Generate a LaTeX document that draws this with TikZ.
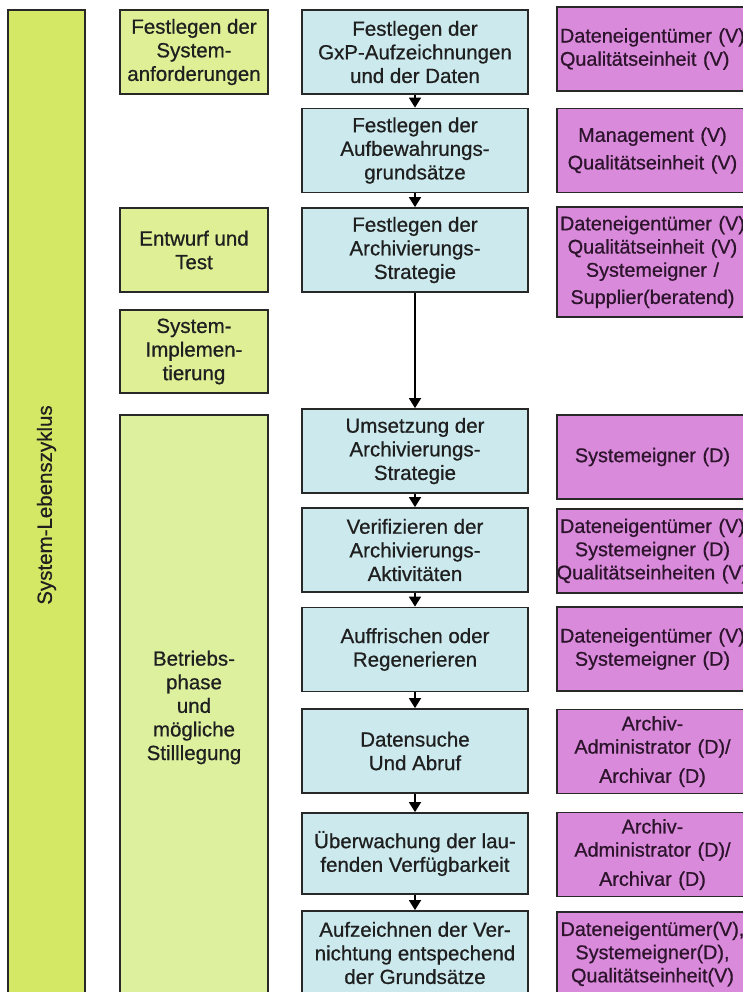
\documentclass[tikz,border=0pt]{standalone}
\usepackage{fontspec}
\setmainfont{Liberation Sans}
\newfontfamily\boxfont{Liberation Sans}[FakeBold=0.7]
\usetikzlibrary{arrows.meta}
\definecolor{cyclegreen}{RGB}{213,232,102}
\definecolor{phasegreen}{RGB}{223,239,150}
\definecolor{opgreen}{RGB}{220,240,158}
\definecolor{taskblue}{RGB}{204,234,238}
\definecolor{rolepink}{RGB}{218,138,218}
\definecolor{frame}{RGB}{40,40,40}
\definecolor{roletext}{RGB}{45,20,45}

\begin{document}
\begin{tikzpicture}[x=0.5pt, y=-0.5pt, >={Triangle[width=6pt,length=5pt]},
    box/.style={draw=frame, line width=0.9pt, inner sep=1pt, align=center,
      text=black!88, font=\boxfont\fontsize{10.25}{11.8}\selectfont},
    phasebox/.style={box, fill=phasegreen, minimum width=74pt, minimum height=42pt},
    taskbox/.style={box, fill=taskblue, minimum width=113pt, minimum height=42pt},
    rolebox/.style={box, fill=rolepink, text=roletext, inner sep=0pt, text width=95.5pt,
      minimum height=42pt, font=\boxfont\fontsize{9.9}{11.6}\selectfont},
    flow/.style={->, line width=0.9pt, draw=black}]
  \clip (0,0) rectangle (743,992);
  \fill[white] (0,0) rectangle (743,992);

  % life cycle bar
  \node[box, fill=cyclegreen, rotate=90, minimum width=495pt, minimum height=38.5pt]
    (cycle) at (46.5,505) {System-Lebenszyklus};

  % phases
  \node[phasebox] (sysreq) at (194,52) {Festlegen der\\System-\\anforderungen};
  \node[phasebox] (design) at (194,250) {Entwurf und\\Test};
  \node[phasebox, minimum height=41.5pt] (impl) at (194,351.5) {System-\\Implemen-\\tierung};
  \node[phasebox, fill=opgreen, minimum height=292.5pt] (operation) at (194,707.5)
    {Betriebs-\\phase\\und\\mögliche\\Stilllegung};

  % activities
  \node[taskbox] (t1) at (415,52) {Festlegen der\\GxP-Aufzeichnungen\\und der Daten};
  \node[taskbox] (t2) at (415,150.5) {Festlegen der\\Aufbewahrungs-\\grundsätze};
  \node[taskbox] (t3) at (415,250) {Festlegen der\\Archivierungs-\\Strategie};
  \node[taskbox] (t4) at (415,451) {Umsetzung der\\Archivierungs-\\Strategie};
  \node[taskbox] (t5) at (415,550) {Verifizieren der\\Archivierungs-\\Aktivitäten};
  \node[taskbox] (t6) at (415,649.5) {Auffrischen oder\\Regenerieren};
  \node[taskbox] (t7) at (415,751) {Datensuche\\Und Abruf};
  \node[taskbox, minimum height=40.5pt] (t8) at (415,853.5) {Überwachung der lau-\\fenden Verfügbarkeit};
  \node[taskbox] (t9) at (415,953) {Aufzeichnen der Ver-\\nichtung entspechend\\der Grundsätze};

  % responsibilities
  \node[rolebox, align=left] (r1) at (652.5,49) {\hspace{1.5pt}Dateneigentümer (V)\\\hspace{1.5pt}Qualitätseinheit (V)};
  \node[rolebox] (r2) at (652.5,150.5) {Management (V)\\[2.2pt]Qualitätseinheit (V)};
  \node[rolebox, minimum height=55pt] (r3) at (652.5,262)
    {Dateneigentümer (V)\\Qualitätseinheit (V)\\Systemeigner /\\[2pt]Supplier(beratend)};
  \node[rolebox] (r4) at (652.5,457) {Systemeigner (D)};
  \node[rolebox] (r5) at (652.5,551)
    {Dateneigentümer (V)\\Systemeigner (D)\\\makebox[\linewidth][c]{Qualitätseinheiten (V)}};
  \node[rolebox] (r6) at (652.5,649) {Dateneigentümer (V)\\Systemeigner (D)};
  \node[rolebox] (r7) at (652.5,751.5) {Archiv-\\Administrator (D)/\\[3pt]Archivar (D)};
  \node[rolebox] (r8) at (652.5,854.5) {Archiv-\\Administrator (D)/\\[3pt]Archivar (D)};
  \node[rolebox] (r9) at (652.5,954) {Dateneigentümer(V),\\Systemeigner(D),\\Qualitätseinheit(V)};

  \foreach \a/\b in {t1/t2, t2/t3, t3/t4, t4/t5, t5/t6, t6/t7, t7/t8, t8/t9}
    \draw[flow] (\a.south) -- (\b.north);
\end{tikzpicture}
\end{document}
